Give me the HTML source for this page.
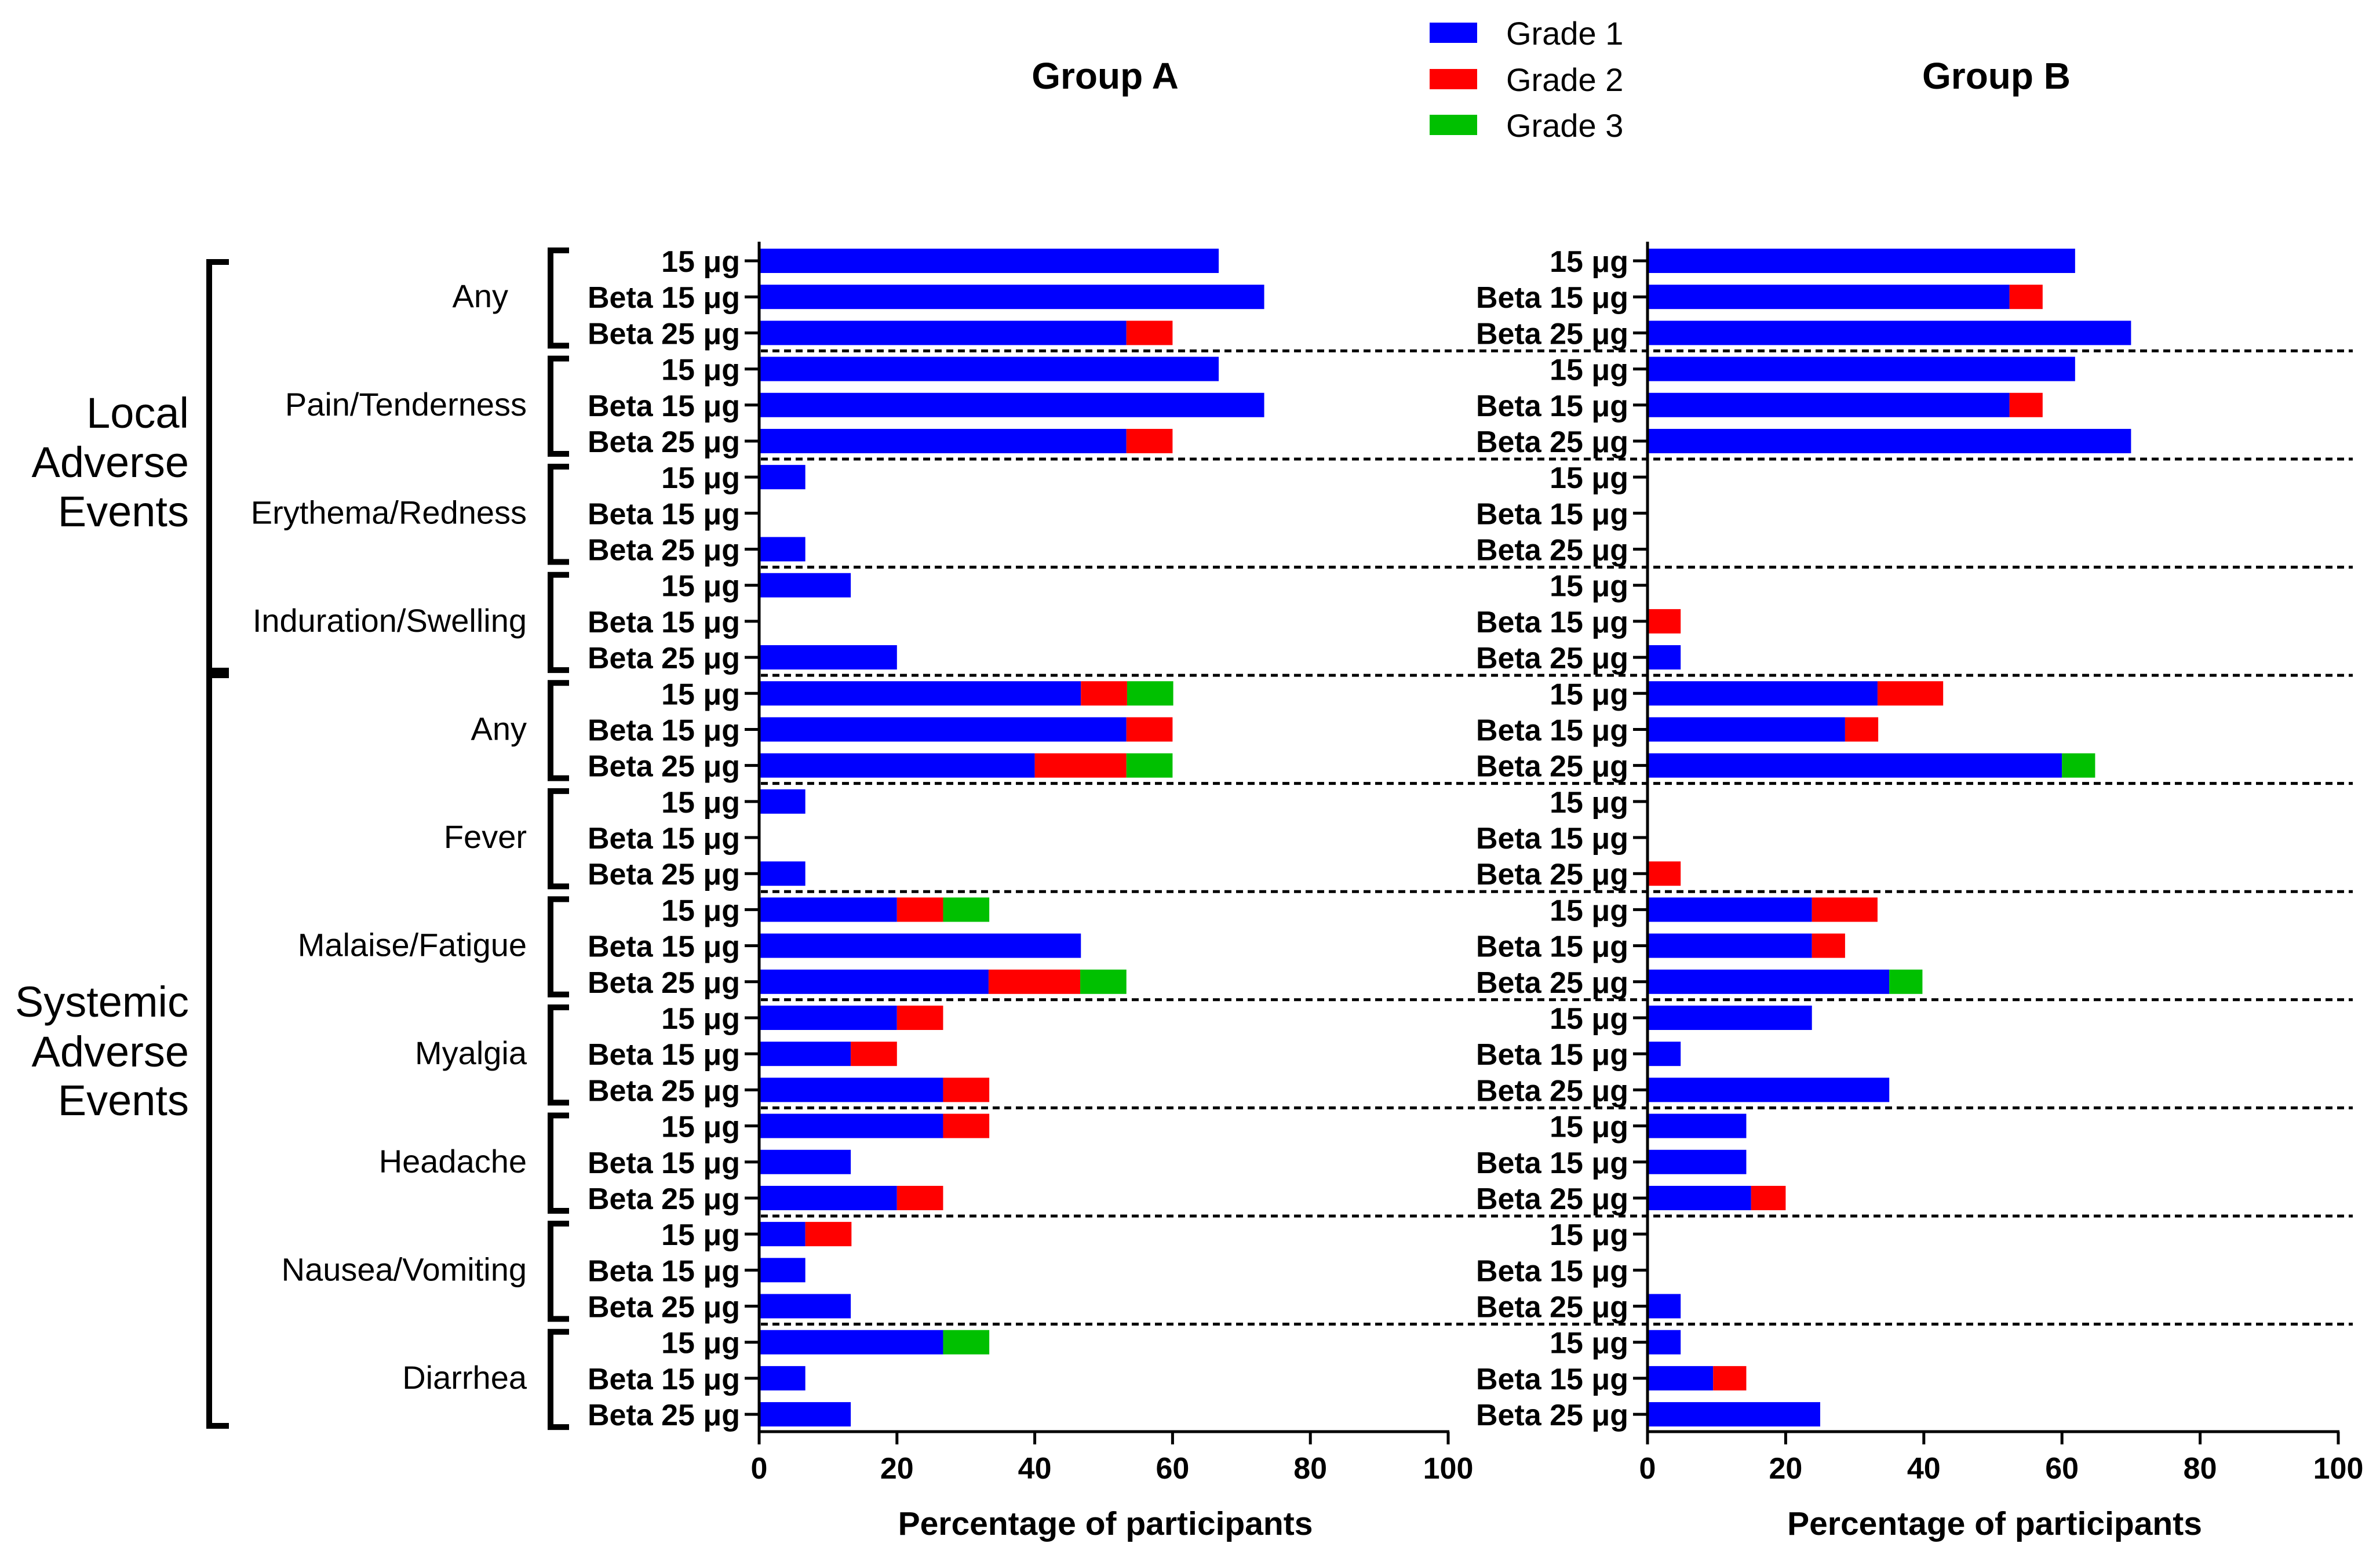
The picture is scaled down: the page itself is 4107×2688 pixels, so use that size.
<!DOCTYPE html>
<html><head><meta charset="utf-8"><style>
html,body{margin:0;padding:0;background:#fff;}
svg{display:block;font-family:"Liberation Sans",Arial,sans-serif;}
</style></head><body>
<svg id="chart" width="4107" height="2688" viewBox="0 0 4107 2688" xmlns="http://www.w3.org/2000/svg">
<g id="static">
<text x="1907" y="153" font-size="64" font-weight="bold" text-anchor="middle">Group A</text>
<text x="3445" y="153" font-size="64" font-weight="bold" text-anchor="middle">Group B</text>
<g>
<rect x="2467" y="39" width="82" height="35" fill="#0000ff"/>
<text x="2599" y="77" font-size="56">Grade 1</text>
<rect x="2467" y="119" width="82" height="35" fill="#ff0000"/>
<text x="2599" y="157" font-size="56">Grade 2</text>
<rect x="2467" y="198" width="82" height="35" fill="#00c000"/>
<text x="2599" y="236" font-size="56">Grade 3</text>
</g>
<text font-size="74" text-anchor="end"><tspan x="326" y="738">Local</tspan><tspan x="326" y="823">Adverse</tspan><tspan x="326" y="908">Events</tspan></text>
<text font-size="74" text-anchor="end"><tspan x="326" y="1754">Systemic</tspan><tspan x="326" y="1840">Adverse</tspan><tspan x="326" y="1924">Events</tspan></text>
<path d="M395,452 H361 V1157 H395" fill="none" stroke="#000" stroke-width="10"/>
<path d="M395,1165 H361 V2460 H395" fill="none" stroke="#000" stroke-width="10"/>
</g>
<g id="dyn"></g>
</svg>
<script>
const groups = ["Any","Pain/Tenderness","Erythema/Redness","Induration/Swelling","Any","Fever","Malaise/Fatigue","Myalgia","Headache","Nausea/Vomiting","Diarrhea"];
const doses = ["15 \u03bcg","Beta 15 \u03bcg","Beta 25 \u03bcg"];
const ticks = [0,20,40,60,80,100];
// Group A, per row (group x dose), grade values in %
const aG1 = [66.7,73.3,53.3, 66.7,73.3,53.3, 6.7,0,6.7, 13.3,0,20, 46.7,53.3,40, 6.7,0,6.7, 20,46.7,33.3, 20,13.3,26.7, 26.7,13.3,20, 6.7,6.7,13.3, 26.7,6.7,13.3];
const aG2 = [0,0,6.7, 0,0,6.7, 0,0,0, 0,0,0, 6.7,6.7,13.3, 0,0,0, 6.7,0,13.3, 6.7,6.7,6.7, 6.7,0,6.7, 6.7,0,0, 0,0,0];
const aG3 = [0,0,0, 0,0,0, 0,0,0, 0,0,0, 6.7,0,6.7, 0,0,0, 6.7,0,6.7, 0,0,0, 0,0,0, 0,0,0, 6.7,0,0];
// Group B
const bG1 = [61.9,52.4,70, 61.9,52.4,70, 0,0,0, 0,0,4.8, 33.3,28.6,60, 0,0,0, 23.8,23.8,35, 23.8,4.8,35, 14.3,14.3,15, 0,0,4.8, 4.8,9.5,25];
const bG2 = [0,4.8,0, 0,4.8,0, 0,0,0, 0,4.8,0, 9.5,4.8,0, 0,0,4.8, 9.5,4.8,0, 0,0,0, 0,0,5, 0,0,0, 0,4.8,0];
const bG3 = [0,0,0, 0,0,0, 0,0,0, 0,0,0, 0,0,4.8, 0,0,0, 0,0,4.8, 0,0,0, 0,0,0, 0,0,0, 0,0,0];

const NS="http://www.w3.org/2000/svg";
const dyn=document.getElementById('dyn');
function mk(tag,attrs,txt){const e=document.createElementNS(NS,tag);for(const k in attrs)e.setAttribute(k,attrs[k]);if(txt!==undefined)e.textContent=txt;dyn.appendChild(e);return e;}
const rowY=i=>450+i*62.19;
const BAR_H=42, AXIS_Y=2470, Y_TOP=417;
const panels=[{name:'a',x0:1310,w:1189,g:[aG1,aG2,aG3]},{name:'b',x0:2843,w:1192,g:[bG1,bG2,bG3]}];
const colors=['#0000ff','#ff0000','#00c000'];

for(let k=0;k<groups.length-1;k++){
  const y=rowY(3*k+2)+31;
  const l=mk('line',{x1:1313,x2:4060,y1:y,y2:y,stroke:'#000','stroke-width':5,'stroke-dasharray':'12 8'});
  
  
}
groups.forEach((g,k)=>{
  const t=mk('text',{x:(k===0?877:909),y:rowY(3*k+1)+18,'font-size':56,'text-anchor':'end'},g);
  
  
  const top=rowY(3*k)-18,bot=rowY(3*k+2)+22;
  const p=mk('path',{d:`M982,${top} H950 V${bot} H982`,fill:'none',stroke:'#000','stroke-width':10});
  
  
});
panels.forEach(P=>{
  const xs=v=>P.x0+v/100*P.w;
  for(let i=0;i<33;i++){
    let acc=0;
    for(let s=0;s<3;s++){
      const v=P.g[s][i];
      if(v>0){
        const r=mk('rect',{x:xs(acc),y:rowY(i)-BAR_H/2,width:xs(acc+v)-xs(acc),height:BAR_H,fill:colors[s]});
        
        
      }
      acc+=v;
    }
    const tk=mk('line',{x1:P.x0-25,x2:P.x0,y1:rowY(i),y2:rowY(i),stroke:'#000','stroke-width':5});
    
    
    const lb=mk('text',{x:P.x0-33,y:rowY(i)+19,'font-size':52,'font-weight':'bold','text-anchor':'end'},doses[i%3]);
    
    
  }
  const ya=mk('line',{x1:P.x0,x2:P.x0,y1:Y_TOP,y2:AXIS_Y+2,stroke:'#000','stroke-width':5});
  
  
  const xa=mk('line',{x1:P.x0-2,x2:xs(100)+2,y1:AXIS_Y,y2:AXIS_Y,stroke:'#000','stroke-width':5});
  
  
  ticks.forEach(t=>{
    const l=mk('line',{x1:xs(t),x2:xs(t),y1:AXIS_Y,y2:AXIS_Y+22,stroke:'#000','stroke-width':5});
    
    
    const tx=mk('text',{x:xs(t),y:2551,'font-size':52,'font-weight':'bold','text-anchor':'middle'},String(t));
    
    
  });
  const ti=mk('text',{x:xs(50)+3,y:2648,'font-size':57,'font-weight':'bold','text-anchor':'middle'},'Percentage of participants');
  
  
});
</script>
</body></html>
